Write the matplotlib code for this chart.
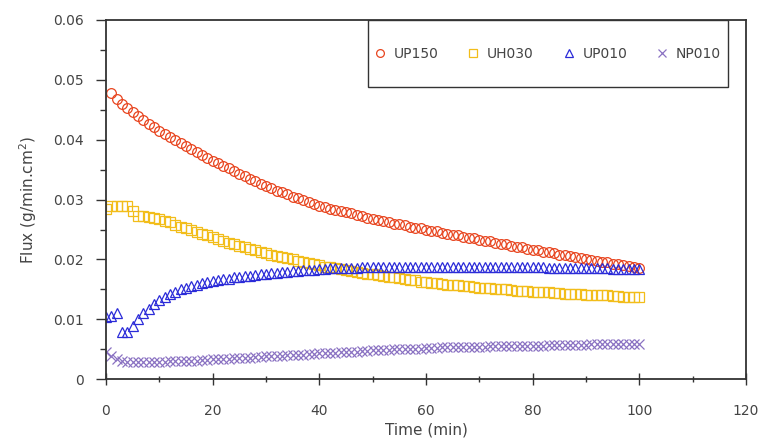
import matplotlib
matplotlib.use("Agg")
import numpy as np
import matplotlib.pyplot as plt
from matplotlib.patches import Rectangle
from matplotlib.ticker import MultipleLocator, FixedFormatter, FixedLocator

# Time in minutes, one reading per minute
time = np.arange(0, 101)

# UP150 starts at t = 1
up150 = [np.nan,
         0.0478, 0.0468, 0.0460, 0.0453, 0.0446, 0.0439, 0.0433, 0.0427, 0.0421, 0.0415,
         0.0410, 0.0405, 0.0400, 0.0394, 0.0389, 0.0384, 0.0379, 0.0374, 0.0370, 0.0365,
         0.0361, 0.0356, 0.0352, 0.0347, 0.0343, 0.0339, 0.0335, 0.0331, 0.0326, 0.0322,
         0.0319, 0.0315, 0.0312, 0.0309, 0.0305, 0.0302, 0.0299, 0.0296, 0.0293, 0.0290,
         0.0288, 0.0285, 0.0283, 0.0281, 0.0279, 0.0277, 0.0275, 0.0273, 0.0270, 0.0268,
         0.0266, 0.0264, 0.0262, 0.0260, 0.0259, 0.0257, 0.0255, 0.0253, 0.0252, 0.0250,
         0.0248, 0.0247, 0.0245, 0.0243, 0.0241, 0.0240, 0.0238, 0.0236, 0.0235, 0.0233,
         0.0231, 0.0230, 0.0228, 0.0226, 0.0225, 0.0223, 0.0221, 0.0220, 0.0218, 0.0216,
         0.0215, 0.0213, 0.0212, 0.0210, 0.0208, 0.0207, 0.0205, 0.0204, 0.0202, 0.0200,
         0.0199, 0.0197, 0.0196, 0.0195, 0.0193, 0.0192, 0.0190, 0.0189, 0.0187, 0.0186]

uh030 = [0.0285,
         0.0290, 0.0290, 0.0290, 0.0289, 0.0281, 0.0273, 0.0272, 0.0271, 0.0270, 0.0268,
         0.0265, 0.0262, 0.0258, 0.0255, 0.0252, 0.0249, 0.0246, 0.0243, 0.0240, 0.0237,
         0.0234, 0.0231, 0.0228, 0.0225, 0.0222, 0.0220, 0.0217, 0.0215, 0.0212, 0.0210,
         0.0208, 0.0206, 0.0204, 0.0202, 0.0200, 0.0198, 0.0196, 0.0194, 0.0192, 0.0190,
         0.0188, 0.0187, 0.0185, 0.0184, 0.0182, 0.0181, 0.0179, 0.0178, 0.0176, 0.0175,
         0.0174, 0.0172, 0.0171, 0.0170, 0.0169, 0.0167, 0.0166, 0.0165, 0.0163, 0.0162,
         0.0161, 0.0160, 0.0159, 0.0158, 0.0157, 0.0157, 0.0156, 0.0155, 0.0154, 0.0153,
         0.0152, 0.0152, 0.0151, 0.0150, 0.0150, 0.0149, 0.0148, 0.0148, 0.0147, 0.0146,
         0.0146, 0.0145, 0.0145, 0.0144, 0.0144, 0.0143, 0.0143, 0.0142, 0.0142, 0.0141,
         0.0141, 0.0140, 0.0140, 0.0140, 0.0139, 0.0139, 0.0138, 0.0138, 0.0137, 0.0137]

up010 = [0.0104,
         0.0106, 0.0110, 0.0078, 0.0078, 0.0088, 0.0100, 0.0110, 0.0118, 0.0125, 0.0132,
         0.0137, 0.0142, 0.0146, 0.0150, 0.0153, 0.0156, 0.0158, 0.0160, 0.0162, 0.0164,
         0.0165, 0.0167, 0.0168, 0.0170, 0.0171, 0.0172, 0.0173, 0.0174, 0.0175, 0.0176,
         0.0177, 0.0178, 0.0179, 0.0179, 0.0180, 0.0181, 0.0182, 0.0182, 0.0183, 0.0184,
         0.0184, 0.0185, 0.0185, 0.0185, 0.0186, 0.0186, 0.0186, 0.0187, 0.0187, 0.0187,
         0.0187, 0.0187, 0.0188, 0.0188, 0.0188, 0.0188, 0.0188, 0.0188, 0.0188, 0.0188,
         0.0188, 0.0188, 0.0188, 0.0188, 0.0188, 0.0188, 0.0188, 0.0188, 0.0188, 0.0188,
         0.0188, 0.0188, 0.0188, 0.0188, 0.0187, 0.0187, 0.0187, 0.0187, 0.0187, 0.0187,
         0.0187, 0.0187, 0.0186, 0.0186, 0.0186, 0.0186, 0.0186, 0.0186, 0.0185, 0.0185,
         0.0185, 0.0185, 0.0185, 0.0185, 0.0184, 0.0184, 0.0184, 0.0184, 0.0184, 0.0184]

np010 = [0.0045,
         0.0038, 0.0033, 0.0030, 0.0029, 0.0028, 0.0028, 0.0028, 0.0028, 0.0029, 0.0029,
         0.0029, 0.0030, 0.0030, 0.0030, 0.0031, 0.0031, 0.0031, 0.0032, 0.0032, 0.0033,
         0.0033, 0.0034, 0.0034, 0.0035, 0.0035, 0.0036, 0.0036, 0.0037, 0.0037, 0.0038,
         0.0038, 0.0039, 0.0039, 0.0040, 0.0040, 0.0041, 0.0041, 0.0042, 0.0042, 0.0043,
         0.0043, 0.0044, 0.0044, 0.0045, 0.0045, 0.0046, 0.0046, 0.0047, 0.0047, 0.0048,
         0.0048, 0.0049, 0.0049, 0.0050, 0.0050, 0.0050, 0.0051, 0.0051, 0.0051, 0.0052,
         0.0052, 0.0052, 0.0053, 0.0053, 0.0053, 0.0053, 0.0054, 0.0054, 0.0054, 0.0054,
         0.0054, 0.0055, 0.0055, 0.0055, 0.0055, 0.0055, 0.0056, 0.0056, 0.0056, 0.0056,
         0.0056, 0.0056, 0.0057, 0.0057, 0.0057, 0.0057, 0.0057, 0.0057, 0.0057, 0.0057,
         0.0058, 0.0058, 0.0058, 0.0058, 0.0058, 0.0058, 0.0058, 0.0058, 0.0058, 0.0058]

series = [
    ("UP150", up150, "o", "#e8451f"),
    ("UH030", uh030, "s", "#f2bd1a"),
    ("UP010", up010, "^", "#2b2bd8"),
    ("NP010", np010, "x", "#8a72c2"),
]

y_ticks = [0, 0.01, 0.02, 0.03, 0.04, 0.05, 0.06]
y_labels = ["0", "0.01", "0.02", "0.03", "0.04", "0.05", "0.06"]

fig = plt.figure(figsize=(7.62, 4.44), dpi=100)
ax = fig.add_axes([0.139, 0.146, 0.840, 0.809])

for name, vals, mk, col in series:
    ax.plot(time, np.array(vals, dtype=float), linestyle="none", marker=mk,
            markersize=7, markerfacecolor="none", markeredgecolor=col,
            markeredgewidth=0.9, label=name)

ax.set_xlim(0, 120)
ax.set_ylim(0, 0.06)
ax.xaxis.set_major_locator(MultipleLocator(20))
ax.xaxis.set_minor_locator(MultipleLocator(10))
ax.yaxis.set_major_locator(FixedLocator(y_ticks))
ax.yaxis.set_major_formatter(FixedFormatter(y_labels))
ax.yaxis.set_minor_locator(MultipleLocator(0.005))

ax.tick_params(axis="x", which="major", direction="inout", length=8, width=1,
               color="#333", labelsize=10, labelcolor="#444", pad=14)
ax.tick_params(axis="x", which="minor", direction="inout", length=5, width=1, color="#333")
ax.tick_params(axis="y", which="major", direction="out", length=7, width=1,
               color="#333", labelsize=10, labelcolor="#444", pad=9)
ax.tick_params(axis="y", which="minor", direction="out", length=4, width=1, color="#333")

for s in ax.spines.values():
    s.set_color("#333")
    s.set_linewidth(1.3)

ax.set_xlabel("Time (min)", fontsize=11, color="#444", labelpad=3)
ax.set_ylabel("Flux (g/min.cm$^2$)", fontsize=11, color="#444", labelpad=10)

# legend box hanging from the top spine
ax.add_patch(Rectangle((0.409, 0.813), 0.563, 0.187, transform=ax.transAxes,
                       facecolor="white", edgecolor="#333", linewidth=1.0, zorder=4))
leg = ax.legend(loc="center", bbox_to_anchor=(0.69, 0.906), ncol=4,
                fontsize=10, frameon=False, handlelength=0.8, markerscale=0.8,
                handletextpad=0.6, columnspacing=2.1)
leg.set_zorder(5)
for t in leg.get_texts():
    t.set_color("#444")

fig.savefig("out.png", dpi=100)
